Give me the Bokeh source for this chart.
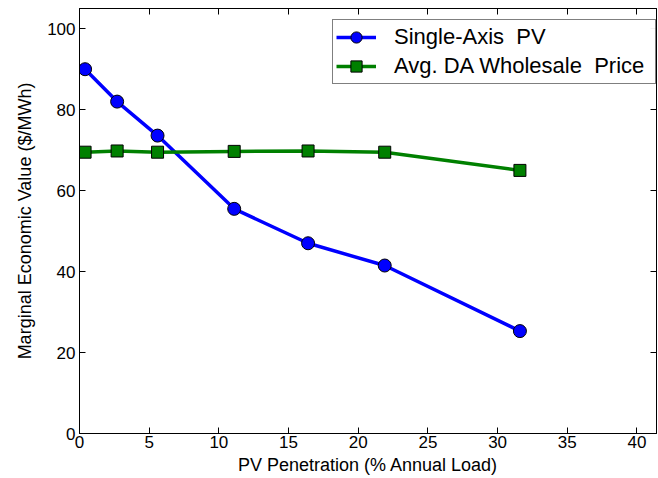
from bokeh.plotting import figure
from bokeh.models import LinearAxis, Range1d, Legend, LegendItem, FixedTicker
from bokeh.embed import file_html
from bokeh.resources import INLINE

penetration = [0.4, 2.7, 5.6, 11.1, 16.4, 21.9, 31.6]
single_axis_pv = [90.0, 82.0, 73.6, 55.5, 47.0, 41.5, 25.3]
avg_da_price = [69.5, 69.8, 69.5, 69.7, 69.8, 69.5, 65.0]
x_ticks = [0, 5, 10, 15, 20, 25, 30, 35, 40]
y_ticks = [0, 20, 40, 60, 80, 100]

FONT = "Liberation Sans"

p = figure(width=657, height=477, output_backend="svg", toolbar_location=None,
           x_range=Range1d(0, 41.4), y_range=Range1d(0, 105),
           min_border_left=79, min_border_right=1, min_border_top=8, min_border_bottom=44)
p.grid.visible = False
p.outline_line_color = "black"
p.outline_line_width = 1
p.background_fill_color = "white"
p.border_fill_color = "white"

for ax in [p.xaxis[0], p.yaxis[0]]:
    ax.major_tick_in = 6
    ax.major_tick_out = 0
    ax.minor_tick_line_color = None
    ax.axis_line_color = "black"
    ax.major_tick_line_color = "black"
    ax.major_label_text_font = FONT
    ax.major_label_text_font_size = "17px"
    ax.major_label_text_color = "black"
    ax.axis_label_text_font = FONT
    ax.axis_label_text_font_size = "18px"
    ax.axis_label_text_font_style = "normal"
    ax.axis_label_text_color = "black"

p.xaxis.ticker = FixedTicker(ticks=x_ticks)
p.yaxis.ticker = FixedTicker(ticks=y_ticks)
p.xaxis.axis_label = "PV Penetration (% Annual Load)"
p.yaxis.axis_label = "Marginal Economic Value ($/MWh)"
p.xaxis.major_label_standoff = 2
p.yaxis.major_label_standoff = 4
p.xaxis.axis_label_standoff = 4
p.yaxis.axis_label_standoff = 9

top = LinearAxis(ticker=FixedTicker(ticks=x_ticks),
                 major_label_overrides={t: "" for t in x_ticks},
                 major_tick_in=6, major_tick_out=0, minor_tick_line_color=None,
                 axis_line_color="black")
right = LinearAxis(ticker=FixedTicker(ticks=y_ticks),
                   major_label_overrides={t: "" for t in y_ticks},
                   major_tick_in=6, major_tick_out=0, minor_tick_line_color=None,
                   axis_line_color="black")
top.major_label_standoff = 0
right.major_label_standoff = 0
p.add_layout(top, "above")
p.add_layout(right, "right")

l1 = p.line(penetration, single_axis_pv, line_color="blue", line_width=3.5)
m1 = p.scatter(penetration, single_axis_pv, marker="circle", size=13,
               fill_color="blue", line_color="black", line_width=1)
l2 = p.line(penetration, avg_da_price, line_color="green", line_width=3.5)
m2 = p.scatter(penetration, avg_da_price, marker="square", size=12,
               fill_color="green", line_color="black", line_width=1)

legend = Legend(items=[LegendItem(label="Single-Axis  PV", renderers=[l1, m1]),
                       LegendItem(label="Avg. DA Wholesale  Price", renderers=[l2, m2])],
                location=(253, 349))
legend.label_text_font = FONT
legend.label_text_font_size = "22px"
legend.label_text_color = "black"
legend.border_line_color = "black"
legend.border_line_width = 1
legend.margin = 0
legend.padding = 3
legend.spacing = 1
legend.glyph_width = 40
legend.glyph_height = 28
legend.label_height = 28
legend.label_width = 258
legend.label_standoff = 18
p.add_layout(legend)

open("out.html", "w").write(file_html(p, INLINE))
